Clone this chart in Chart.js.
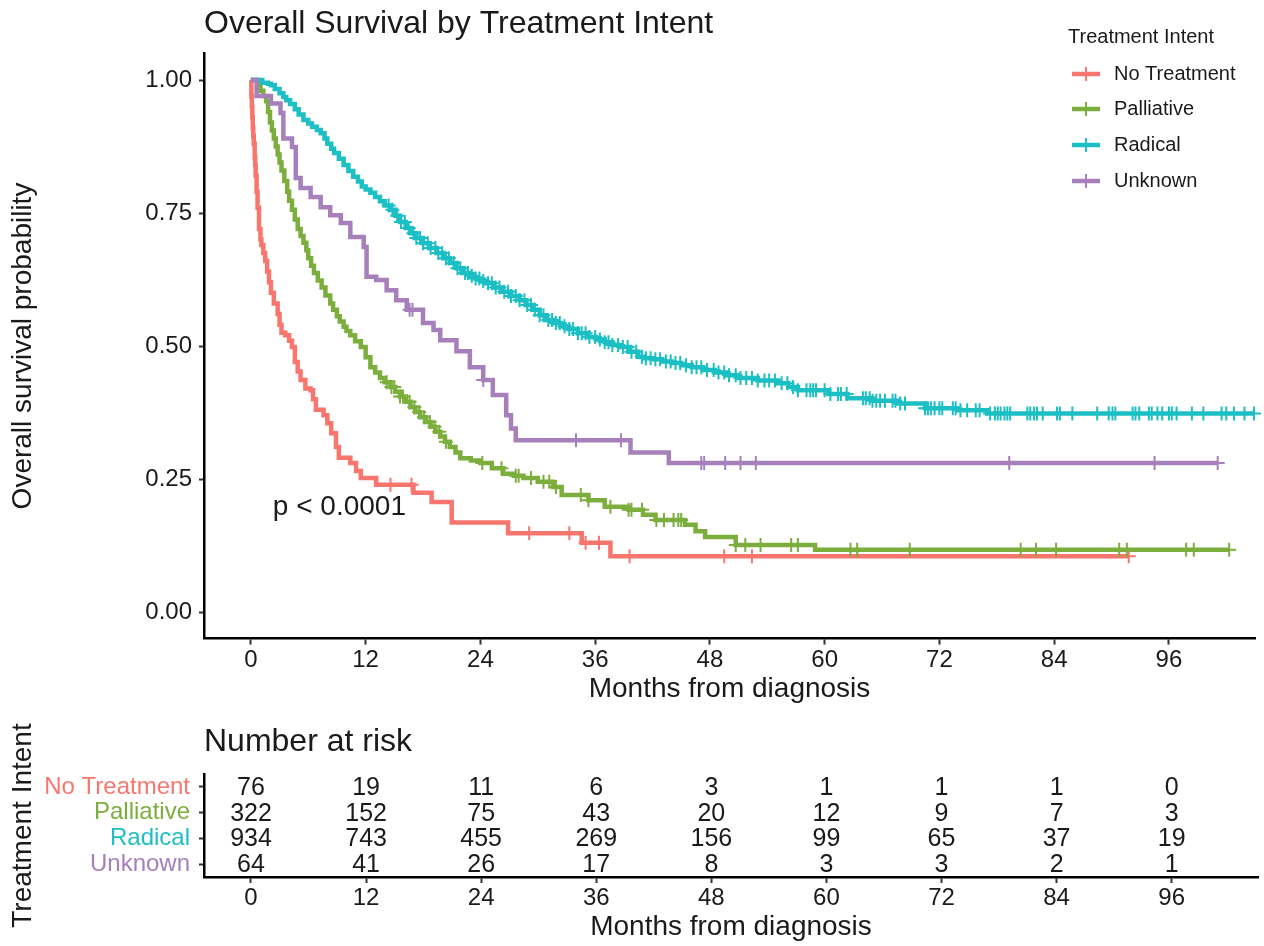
<!DOCTYPE html>
<html>
<head>
<meta charset="utf-8">
<script src="https://cdn.jsdelivr.net/npm/chart.js@4.4.0/dist/chart.umd.min.js"></script>
<style>
body { margin: 0; background: #fff; }
#wrap { position: relative; width: 1264px; height: 946px; }
canvas { position: absolute; left: 0; }
</style>
</head>
<body>
<div id="wrap">
  <canvas id="survChart" width="1264" height="708" style="top:0"></canvas>
  <canvas id="riskChart" width="1264" height="238" style="top:708px"></canvas>
</div>
<script>
// ---- data ----
const groupNames = ['No Treatment', 'Palliative', 'Radical', 'Unknown'];
const groupColors = ['#F8766D', '#7CAE3D', '#1BBFC4', '#A67FBB'];

const monthTicks = [0, 12, 24, 36, 48, 60, 72, 84, 96];
const survTicks = [0, 0.25, 0.5, 0.75, 1];

// [month, survival] after each step
const noTreatmentCurve = [
  [0, 1.0], [0.05, 0.97], [0.1, 0.95], [0.15, 0.93], [0.2, 0.91], [0.25, 0.895], [0.3, 0.88], [0.4, 0.855],
  [0.45, 0.84], [0.5, 0.82], [0.6, 0.79], [0.7, 0.76], [0.85, 0.72], [1.0, 0.70], [1.1, 0.69], [1.3, 0.675],
  [1.5, 0.66], [1.7, 0.64], [1.9, 0.62], [2.1, 0.60], [2.4, 0.58], [2.8, 0.56], [3.0, 0.54], [3.2, 0.525],
  [3.6, 0.52], [4.0, 0.51], [4.3, 0.498], [4.6, 0.47], [4.9, 0.452], [5.2, 0.436], [5.7, 0.42], [6.25, 0.417],
  [6.5, 0.40], [6.8, 0.38], [7.6, 0.37], [8.0, 0.355], [8.4, 0.336], [8.9, 0.31], [9.2, 0.29], [10.4, 0.28],
  [11.0, 0.265], [11.5, 0.252], [13.1, 0.239], [17, 0.224], [18.9, 0.207], [21, 0.168], [26.9, 0.148],
  [34.6, 0.13], [37.6, 0.105], [91.8, 0.105]
];
const palliativeCurve = [
  [0, 1.0], [0.6, 1.0], [0.8, 0.99], [1.0, 0.98], [1.3, 0.97], [1.6, 0.96], [1.8, 0.94], [2.0, 0.92],
  [2.2, 0.905], [2.4, 0.89], [2.6, 0.875], [2.8, 0.86], [3.0, 0.845], [3.2, 0.83], [3.5, 0.81], [3.8, 0.79],
  [4.0, 0.773], [4.3, 0.756], [4.6, 0.738], [4.9, 0.72], [5.2, 0.707], [5.5, 0.694], [5.8, 0.68], [6.0, 0.665],
  [6.3, 0.651], [6.6, 0.637], [7.0, 0.623], [7.4, 0.61], [7.8, 0.595], [8.3, 0.58], [8.6, 0.568], [9.0, 0.556],
  [9.3, 0.546], [9.7, 0.536], [10.0, 0.528], [10.4, 0.52], [10.9, 0.509], [11.5, 0.498], [12.0, 0.479],
  [12.5, 0.46], [13.0, 0.45], [13.5, 0.44], [14.0, 0.432], [14.6, 0.423], [15.1, 0.414], [15.6, 0.405],
  [16.2, 0.395], [16.7, 0.385], [17.2, 0.376], [17.7, 0.366], [18.3, 0.357], [18.8, 0.348], [19.3, 0.339],
  [19.8, 0.33], [20.3, 0.32], [20.8, 0.31], [21.4, 0.3], [21.9, 0.289], [23.0, 0.285], [24.0, 0.28],
  [25.2, 0.27], [26.4, 0.26], [27.5, 0.256], [28.5, 0.252], [30.0, 0.245], [31.6, 0.235], [32.5, 0.22],
  [35.3, 0.21], [37, 0.198], [39.5, 0.192], [41.0, 0.183], [42.3, 0.173], [45.4, 0.164], [46.5, 0.152],
  [47.5, 0.141], [50.7, 0.126], [59, 0.117], [102.3, 0.117]
];
const radicalCurve = [
  [0, 1.0], [0.6, 1.0], [1.2, 0.995], [1.8, 0.993], [2.1, 0.99], [2.5, 0.983], [3.0, 0.975], [3.4, 0.968],
  [3.7, 0.962], [4.1, 0.955], [4.6, 0.945], [5.0, 0.935], [5.5, 0.925], [6.0, 0.918], [6.4, 0.912],
  [6.9, 0.906], [7.3, 0.9], [7.7, 0.89], [8.0, 0.88], [8.4, 0.871], [8.7, 0.863], [9.2, 0.852], [9.7, 0.84],
  [10.2, 0.829], [10.7, 0.818], [11.2, 0.809], [11.6, 0.8], [12.0, 0.794], [12.5, 0.788], [13.0, 0.78],
  [13.5, 0.772], [14.0, 0.764], [14.6, 0.756], [15.1, 0.745], [15.6, 0.733], [16.2, 0.722], [16.7, 0.712],
  [17.3, 0.703], [18.0, 0.693], [18.7, 0.684], [19.4, 0.675], [20.1, 0.665], [20.8, 0.656], [21.5, 0.646],
  [22.2, 0.637], [22.8, 0.632], [23.4, 0.627], [24.0, 0.622], [24.6, 0.618], [25.4, 0.61], [26.3, 0.602],
  [27.2, 0.594], [28.1, 0.586], [28.8, 0.577], [29.5, 0.568], [30.2, 0.558], [30.9, 0.549], [31.6, 0.543],
  [32.4, 0.537], [33.2, 0.532], [34.2, 0.524], [35.3, 0.517], [36.1, 0.512], [37, 0.507], [37.8, 0.502],
  [38.6, 0.498], [39.5, 0.489], [40.5, 0.48], [41.2, 0.477], [42, 0.475], [43, 0.471], [44, 0.468],
  [45, 0.464], [46.1, 0.46], [47.3, 0.455], [48.5, 0.45], [49.7, 0.445], [51, 0.44], [53, 0.435],
  [55.1, 0.43], [56.2, 0.423], [57.2, 0.417], [60.4, 0.41], [62.4, 0.402], [65, 0.397], [67.6, 0.392],
  [70.5, 0.383], [73.9, 0.379], [77, 0.373], [104.9, 0.373]
];
const unknownCurve = [
  [0, 1.0], [0.3, 1.0], [0.6, 0.97], [2.1, 0.956], [3.1, 0.938], [3.4, 0.89], [4.3, 0.874], [4.7, 0.816],
  [5.2, 0.797], [6.25, 0.78], [7.3, 0.761], [8.3, 0.746], [9.4, 0.731], [10.4, 0.705], [11.8, 0.686],
  [12.1, 0.63], [13.1, 0.624], [14.2, 0.605], [15.2, 0.586], [16.3, 0.568], [18, 0.543], [19.1, 0.53],
  [19.8, 0.511], [21.5, 0.49], [22.9, 0.46], [24.3, 0.436], [25.3, 0.408], [26.7, 0.37], [27.2, 0.345],
  [27.7, 0.323], [39.7, 0.30], [43.7, 0.28], [101.1, 0.28]
];

// censoring times (months)
const noTreatmentCensor = [14.6, 16.8, 29.1, 33.3, 35.0, 36.4, 39.6, 49.5, 52.4, 91.8];
const palliativeCensor = [
  14.2, 14.7, 15.0, 15.6, 15.9, 16.6, 17.1, 17.6, 18.1, 18.7, 19.2, 19.7, 20.4, 24.2, 26.2, 27.7, 28.0,
  29.3, 30.6, 31.2, 31.9, 34.5, 35.3, 37.6, 39.5, 39.8, 40.9, 42.4, 43.2, 44.2, 44.7, 45.0, 50.7, 51.7,
  53.3, 56.5, 57.2, 62.7, 63.4, 68.9, 80.5, 82.1, 84.2, 90.8, 91.6, 97.8, 98.6, 102.3
];
const radicalCensor = [
  14.4, 14.8, 15.3, 15.7, 16.1, 16.5, 17.0, 17.3, 17.7, 18.0, 18.5, 18.8, 19.3, 19.6, 20.0, 20.4, 20.7,
  21.2, 21.6, 21.9, 22.4, 22.7, 23.1, 23.5, 23.9, 24.3, 24.8, 25.2, 25.6, 26.0, 26.5, 26.9, 27.2, 27.7,
  28.1, 28.6, 28.9, 29.3, 29.7, 30.2, 30.6, 31.1, 31.5, 31.9, 32.3, 32.8, 33.3, 33.7, 34.2, 34.6, 35.0,
  35.4, 36.0, 36.5, 37.0, 37.4, 37.8, 38.4, 38.9, 39.4, 39.8, 40.3, 40.9, 41.3, 41.8, 42.3, 42.8, 43.4,
  43.9, 44.4, 44.9, 45.5, 46.1, 46.6, 47.1, 47.7, 48.4, 48.9, 49.5, 50.0, 50.7, 51.2, 51.8, 52.4, 53.0,
  53.7, 54.2, 54.8, 55.5, 56.1, 56.7, 57.2, 58.1, 58.5, 58.8, 59.1, 60.0, 60.6, 61.4, 61.7, 62.3, 64.0,
  64.3, 64.7, 65.0, 65.4, 65.8, 66.3, 67.1, 67.4, 67.9, 68.4, 70.5, 70.8, 71.1, 71.5, 72.0, 72.3, 73.4,
  73.7, 74.2, 74.9, 75.8, 76.2, 77.3, 77.8, 78.1, 78.4, 78.8, 79.1, 79.4, 81.2, 81.5, 81.9, 82.2, 82.8,
  84.3, 84.6, 85.9, 88.5, 89.7, 90.1, 90.4, 92.2, 92.5, 92.9, 93.9, 94.2, 94.8, 95.3, 96.0, 96.3, 96.8,
  98.4, 99.6, 101.5, 102.0, 102.8, 103.9, 104.9
];
const unknownCensor = [16.6, 16.9, 24.3, 34.0, 38.7, 47.1, 47.4, 49.6, 51.2, 52.8, 79.3, 94.5, 101.1];

// number at risk
const riskTimes = [0, 12, 24, 36, 48, 60, 72, 84, 96];
const riskNoTreatment = [76, 19, 11, 6, 3, 1, 1, 1, 0];
const riskPalliative = [322, 152, 75, 43, 20, 12, 9, 7, 3];
const riskRadical = [934, 743, 455, 269, 156, 99, 65, 37, 19];
const riskUnknown = [64, 41, 26, 17, 8, 3, 3, 2, 1];

const pValueText = 'p < 0.0001';

// ---- helpers ----
const FONT = "'Liberation Sans', Arial, Helvetica, sans-serif";
const TXT = '#1a1a1a';

const curves = [noTreatmentCurve, palliativeCurve, radicalCurve, unknownCurve];
const censors = [noTreatmentCensor, palliativeCensor, radicalCensor, unknownCensor];
const risks = [riskNoTreatment, riskPalliative, riskRadical, riskUnknown];

// survival value of the step function at time t
function survAt(curve, t) {
  let s = curve[0][1];
  for (let i = 0; i < curve.length; i++) {
    if (curve[i][0] <= t) s = curve[i][1];
  }
  return s;
}

let datasets = [];
// censor marks first so they sit on top
for (let g = 3; g >= 0; g--) {
  datasets.push({
    type: 'scatter',
    label: groupNames[g] + ' censor',
    data: censors[g].map(t => ({ x: t, y: survAt(curves[g], t) })),
    pointStyle: 'cross',
    pointRadius: 7,
    pointBorderWidth: 2,
    borderColor: groupColors[g],
    backgroundColor: groupColors[g],
    showLine: false,
    clip: false
  });
}
for (let g = 3; g >= 0; g--) {
  datasets.push({
    type: 'line',
    label: groupNames[g],
    data: curves[g].map(p => ({ x: p[0], y: p[1] })),
    stepped: 'before',   // horizontal first, then drop
    borderColor: groupColors[g],
    borderWidth: 4.5,
    borderCapStyle: 'butt',
    borderJoinStyle: 'miter',
    pointRadius: 0,
    fill: false
  });
}

function axisX(height) {
  return {
    type: 'linear', min: -4.9, max: 105,
    afterBuildTicks: s => { s.ticks = monthTicks.map(v => ({ value: v })); },
    afterFit: s => { s.height = height; },
    grid: { drawOnChartArea: false, drawTicks: true, tickLength: 6, tickWidth: 2, tickColor: '#333' },
    border: { display: true, color: '#000', width: 2.5 },
    ticks: { font: { size: 24, family: FONT }, color: TXT, padding: 1, maxRotation: 0, autoSkip: false, callback: v => String(v) },
    title: { display: true, text: 'Months from diagnosis', font: { size: 28, family: FONT }, color: TXT, padding: { top: 0, bottom: 2 } }
  };
}

// main title, p-value and legend
const survDecor = {
  id: 'survDecor',
  afterDraw(chart) {
    const ctx = chart.ctx;
    const xs = chart.scales.x, ys = chart.scales.y;
    ctx.save();
    ctx.fillStyle = TXT;
    ctx.textBaseline = 'middle';
    ctx.textAlign = 'left';
    ctx.font = '32px ' + FONT;
    ctx.fillText('Overall Survival by Treatment Intent', 204, 24);

    ctx.font = '28px ' + FONT;
    ctx.fillText(pValueText, xs.getPixelForValue(2.3), ys.getPixelForValue(0.197));

    // legend
    ctx.font = '20px ' + FONT;
    ctx.fillText('Treatment Intent', 1068, 37);
    const rowY = [74, 109, 145, 181];
    for (let g = 0; g < 4; g++) {
      ctx.strokeStyle = groupColors[g];
      ctx.lineWidth = 4.5;
      ctx.beginPath();
      ctx.moveTo(1072, rowY[g]);
      ctx.lineTo(1100, rowY[g]);
      ctx.stroke();
      ctx.lineWidth = 2;
      ctx.beginPath();
      ctx.moveTo(1086, rowY[g] - 7);
      ctx.lineTo(1086, rowY[g] + 7);
      ctx.stroke();
      ctx.fillStyle = TXT;
      ctx.fillText(groupNames[g], 1114, rowY[g]);
    }
    ctx.restore();
  }
};

new Chart(document.getElementById('survChart'), {
  type: 'line',
  data: { datasets: datasets },
  options: {
    responsive: false,
    animation: false,
    devicePixelRatio: 1,
    layout: { padding: { top: 53.4, right: 6, left: 0, bottom: 0 } },
    plugins: { legend: { display: false }, tooltip: { enabled: false } },
    scales: {
      x: axisX(69.4),
      y: {
        type: 'linear', min: -0.05, max: 1.05,
        afterBuildTicks: s => { s.ticks = survTicks.map(v => ({ value: v })); },
        afterFit: s => { s.width = 204; },
        grid: { drawOnChartArea: false, drawTicks: true, tickLength: 5, tickWidth: 2, tickColor: '#333' },
        border: { display: true, color: '#000', width: 2.5 },
        ticks: { font: { size: 24, family: FONT }, color: TXT, padding: 7, callback: v => v.toFixed(2) },
        title: { display: true, text: 'Overall survival probability', font: { size: 28, family: FONT }, color: TXT, padding: { top: 6, bottom: 0 } }
      }
    }
  },
  plugins: [survDecor]
});

// ---- risk table ----
let riskSets = [];
for (let g = 0; g < 4; g++) {
  riskSets.push({
    label: groupNames[g],
    data: riskTimes.map(t => ({ x: t, y: groupNames[g] })),
    pointRadius: 0,
    showLine: false
  });
}

const riskDecor = {
  id: 'riskDecor',
  afterDatasetsDraw(chart) {
    const ctx = chart.ctx;
    ctx.save();
    ctx.fillStyle = TXT;
    ctx.textBaseline = 'middle';
    ctx.textAlign = 'left';
    ctx.font = '32px ' + FONT;
    ctx.fillText('Number at risk', 204, 34.5);
    ctx.textAlign = 'center';
    ctx.font = '25px ' + FONT;
    for (let g = 0; g < 4; g++) {
      const meta = chart.getDatasetMeta(g);
      meta.data.forEach((pt, j) => {
        ctx.fillText(String(risks[g][j]), pt.x, pt.y + 1);
      });
    }
    ctx.restore();
  }
};

new Chart(document.getElementById('riskChart'), {
  type: 'scatter',
  data: { datasets: riskSets },
  options: {
    responsive: false,
    animation: false,
    devicePixelRatio: 1,
    layout: { padding: { top: 66, right: 6, left: 0, bottom: 0 } },
    plugins: { legend: { display: false }, tooltip: { enabled: false } },
    scales: {
      x: axisX(69),
      y: {
        type: 'category',
        labels: groupNames,
        offset: true,
        afterFit: s => { s.width = 204; },
        grid: { offset: false, drawOnChartArea: false, drawTicks: true, tickLength: 5, tickWidth: 2, tickColor: '#333' },
        border: { display: true, color: '#000', width: 2.5 },
        ticks: { font: { size: 24, family: FONT }, color: ctx => groupColors[ctx.index], padding: 9, autoSkip: false },
        title: { display: true, text: 'Treatment Intent', font: { size: 28, family: FONT }, color: TXT, padding: { top: 6, bottom: 0 } }
      }
    }
  },
  plugins: [riskDecor]
});
</script>
</body>
</html>
